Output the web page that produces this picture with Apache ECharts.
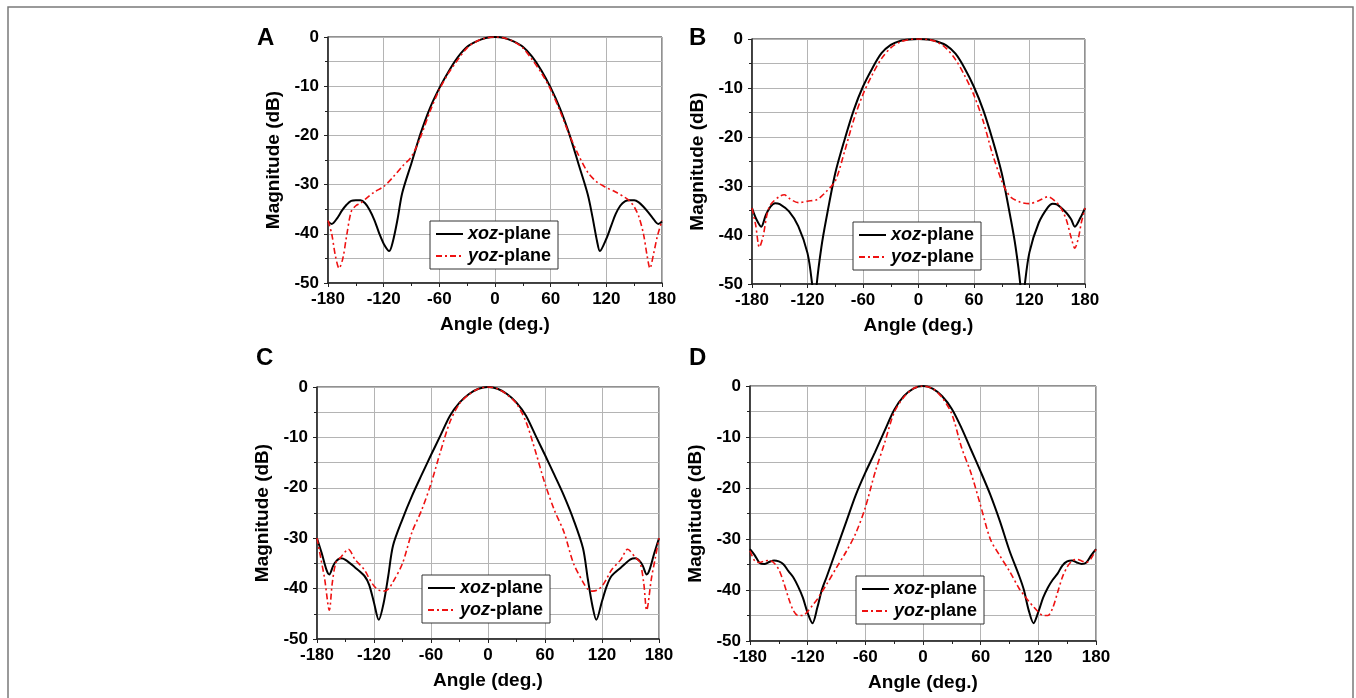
<!DOCTYPE html>
<html lang="en" style="height: 100%;width: 100%">
<head>
    <meta charset="UTF-8">
    <title>Radiation patterns</title>
</head>
<body style="height: 100%; margin: 0; background: #fff">
<div id="charts" style="width: 1356px; height: 698px"></div>
<script type="text/javascript" src="https://cdn.jsdelivr.net/npm/echarts/dist/echarts.min.js"></script>
<script>
    // ---- data (angle in deg, magnitude in dB) ----
    var xTicks = [-180, -120, -60, 0, 60, 120, 180];

    // A
    var aAngX = [-180,-176,-170,-165,-160,-155,-150,-145,-140,-135,-130,-125,-120,-114,-110,-105,-100,-90,-80,-70,-60,-50,-40,-30,-20,-10,0,10,20,30,40,50,60,70,80,90,100,105,110,113,120,125,130,135,140,145,150,155,160,165,170,176,180];
    var aXoz = [-37.5,-38,-36.8,-35.3,-34.1,-33.3,-33.2,-33.2,-33.8,-35.2,-37.2,-39.8,-42,-43.5,-41.5,-37,-31.7,-25.6,-19.5,-14.4,-10.4,-7,-4.1,-2,-0.9,-0.2,0,-0.2,-0.9,-2,-4,-6.8,-10.3,-14.5,-19.7,-25.8,-32,-36.5,-41.5,-43.5,-41,-38.5,-36,-34.3,-33.4,-33.2,-33.2,-33.6,-34.5,-35.6,-36.8,-38,-37.5];
    var aAngY = [-180,-176,-172,-168,-164,-160,-155,-150,-145,-140,-130,-120,-110,-100,-90,-80,-70,-60,-50,-40,-30,-20,-10,0,10,20,30,40,50,60,70,80,90,100,110,120,130,140,145,150,155,160,164,167,171,175,180];
    var aYoz = [-37.3,-40,-44.5,-47,-45,-40.5,-35.5,-34.3,-33.8,-33,-31.5,-30.4,-28.5,-26.3,-24.3,-20.2,-15.1,-10.7,-7.3,-4.6,-2.2,-0.9,-0.2,0,-0.2,-0.9,-2.2,-4.6,-7.3,-10.7,-15,-19.8,-24,-27.5,-29.5,-30.6,-31.5,-32.6,-33.3,-34.5,-36.5,-40,-44.5,-47,-44,-40.5,-37.3];

    // B
    var bAngX = [-180,-175,-170,-165,-160,-155,-150,-140,-130,-120,-115,-112,-110,-105,-100,-90,-80,-70,-60,-50,-40,-30,-20,-10,0,10,20,30,40,50,60,70,80,90,100,105,110,112,115,120,130,140,145,150,160,165,169,175,180];
    var bXoz = [-34.5,-36.9,-38.3,-35.9,-34.2,-33.5,-33.7,-35.2,-38.2,-43.7,-50,-56,-50,-42.5,-37,-27.4,-20.6,-14.5,-9.7,-6,-2.9,-1.2,-0.4,-0.1,0,-0.1,-0.5,-1.3,-3,-6,-9.8,-14.5,-20.5,-27.4,-37,-42.5,-50,-56,-50,-43.5,-37.5,-34.3,-33.6,-33.8,-35.5,-36.8,-38.3,-36.5,-34.5];
    var bAngY = [-180,-176,-172,-168,-164,-160,-150,-145,-140,-130,-120,-110,-105,-100,-90,-80,-70,-60,-50,-40,-30,-20,-10,0,10,20,30,40,50,60,70,80,90,95,100,110,120,130,140,150,155,160,165,169,173,176,180];
    var bYoz = [-34.5,-38,-42.5,-40.3,-36,-33.8,-32.1,-31.8,-32.5,-33.4,-33.1,-32.8,-32.1,-31.2,-29,-23,-16.5,-11.3,-7.3,-4,-1.8,-0.6,-0.1,0,-0.1,-0.6,-1.9,-4.2,-7.5,-11.5,-16.8,-23.5,-29,-31,-32.3,-33.3,-33.6,-33,-32.2,-33.5,-34.8,-37,-40.5,-42.7,-40.5,-37.5,-34.5];

    // C
    var cAngX = [-180,-175,-170,-167,-163,-160,-155,-150,-140,-130,-125,-120,-115,-110,-105,-100,-90,-80,-70,-60,-50,-40,-30,-20,-10,0,10,20,30,40,50,60,70,80,90,100,105,110,114,120,125,130,140,150,155,160,163,167,170,175,180];
    var cXoz = [-30,-33,-36.3,-37.2,-35.5,-34.6,-34,-34.3,-35.8,-37.5,-39.3,-42.8,-46.2,-43,-37.5,-31.5,-26.2,-21.6,-17.5,-13.5,-9.6,-5.7,-3.1,-1.4,-0.35,0,-0.35,-1.4,-3.1,-5.7,-9.6,-13.5,-17.5,-21.6,-26.3,-32,-38,-43.5,-46.2,-42.5,-39.5,-37.5,-35.8,-34.2,-34,-34.6,-35.5,-37.2,-36.3,-33,-30];
    var cAngY = [-180,-176,-172,-167,-164,-160,-155,-147,-140,-130,-125,-120,-115,-110,-105,-100,-90,-80,-70,-60,-50,-40,-30,-20,-10,0,10,20,30,40,50,60,70,80,90,100,105,110,115,120,125,130,140,147,155,160,164,167,172,176,180];
    var cYoz = [-30,-34,-38,-44.3,-39,-34.8,-33.8,-32.2,-34.2,-36.3,-38,-39.5,-40.3,-40.5,-40.1,-38.7,-35,-28.8,-24.5,-19.2,-12.8,-6.9,-3.3,-1.5,-0.35,0,-0.35,-1.5,-3.3,-6.9,-12.8,-19.2,-24.5,-28.8,-35,-38.7,-40.1,-40.5,-40.3,-39.5,-38,-36.3,-34.2,-32.2,-33.8,-34.8,-39,-44.3,-38,-34,-30];

    // D (both curves on the same angles)
    var dAng = [-180,-175,-170,-165,-160,-155,-150,-145,-140,-135,-130,-125,-120,-115,-110,-105,-100,-90,-80,-70,-60,-50,-40,-30,-20,-10,0,10,20,30,40,50,60,70,80,90,100,105,110,115,120,125,130,135,140,145,150,155,160,165,170,175,180];
    var dXoz = [-32,-33.2,-34.7,-34.9,-34.5,-34.2,-34.4,-35,-36.3,-37.5,-39.3,-41.5,-44.5,-46.5,-43.5,-39.8,-37.3,-32,-26.7,-21.4,-17,-13,-8.8,-4.7,-2,-0.5,0,-0.5,-2,-4.5,-8.2,-12.5,-16.8,-21.3,-26.5,-32.3,-37.2,-40,-44,-46.5,-44.3,-41.5,-39.5,-38,-36.8,-35.2,-34.4,-34.2,-34.6,-34.9,-34.6,-33.2,-32];
    var dYoz = [-32.3,-34.3,-34.6,-34.3,-34.2,-34.7,-36,-38.5,-41.5,-44,-45,-45,-44.2,-43,-41.8,-40.3,-38.8,-35.6,-32.5,-28.9,-23.8,-17,-11.2,-5.2,-2.2,-0.5,0,-0.5,-2.3,-5.5,-12,-17.1,-23.5,-30,-33.3,-36.3,-39.7,-41,-42.2,-43.3,-44.3,-45,-45,-43.5,-40.5,-37.5,-35.5,-34.3,-34,-34.3,-34.6,-33.8,-32];

    var panelNames = ['A', 'B', 'C', 'D'];
    var seriesNames = ['xoz-plane', 'yoz-plane'];

    function pairs(xs, ys) {
        return xs.map(function (x, i) { return [x, ys[i]]; });
    }

    var curves = [
        [pairs(aAngX, aXoz), pairs(aAngY, aYoz)],
        [pairs(bAngX, bXoz), pairs(bAngY, bYoz)],
        [pairs(cAngX, cXoz), pairs(cAngY, cYoz)],
        [pairs(dAng, dXoz), pairs(dAng, dYoz)]
    ];

    // layout of the four plots (px)
    var grids = [
        {left: 328, top: 37, width: 334, height: 246},
        {left: 752, top: 39, width: 333, height: 245},
        {left: 317, top: 387, width: 342, height: 252},
        {left: 750, top: 386, width: 346, height: 255}
    ];
    var legendPos = [[430, 221], [853, 222], [422, 575], [856, 576]];
    var letterPos = [[257, 26], [689, 26], [256, 346], [689, 346]];

    var font = '"Liberation Sans", Arial, sans-serif';
    var gridColor = '#b4b4b4';

    var dom = document.getElementById("charts");
    var myChart = echarts.init(dom);
    var option = {
        backgroundColor: '#fff',
        animation: false,
        title: [],
        legend: [],
        grid: [],
        xAxis: [],
        yAxis: [],
        series: [],
        graphic: [{
            type: 'rect',
            shape: {x: 8, y: 7, width: 1345, height: 730},
            style: {fill: 'none', stroke: '#7a7a7a', lineWidth: 1.5}
        }]
    };

    for (var i = 0; i < 4; i++) {
        var g = grids[i];
        option.grid.push({
            left: g.left, top: g.top, width: g.width, height: g.height,
            show: true, borderColor: '#222', borderWidth: 1, backgroundColor: 'transparent'
        });
        option.title.push({
            text: panelNames[i], left: letterPos[i][0], top: letterPos[i][1], padding: 0,
            textStyle: {fontFamily: font, fontSize: 24, fontWeight: 'bold', color: '#000'}
        });
        option.xAxis.push({
            type: 'value', gridIndex: i, min: -180, max: 180, interval: 60,
            name: 'Angle (deg.)', nameLocation: 'middle', nameGap: 32,
            nameTextStyle: {fontFamily: font, fontSize: 19, fontWeight: 'bold', color: '#000'},
            axisLine: {onZero: false, lineStyle: {color: '#222', width: 1.5}},
            axisTick: {show: true, inside: false, length: 4, lineStyle: {color: '#222'}},
            minorTick: {show: true, splitNumber: 2, length: 3, lineStyle: {color: '#222'}},
            axisLabel: {
                margin: 8, fontFamily: font, fontSize: 17, fontWeight: 'bold', color: '#000',
                customValues: xTicks
            },
            splitLine: {show: true, lineStyle: {color: gridColor, width: 1}}
        });
        option.yAxis.push({
            type: 'value', gridIndex: i, min: -50, max: 0, interval: 10,
            name: 'Magnitude (dB)', nameLocation: 'middle', nameGap: 45,
            nameTextStyle: {fontFamily: font, fontSize: 19, fontWeight: 'bold', color: '#000'},
            axisLine: {show: true, onZero: false, lineStyle: {color: '#222', width: 1.5}},
            axisTick: {show: true, inside: false, length: 4, lineStyle: {color: '#222'}},
            minorTick: {show: true, splitNumber: 2, length: 3, lineStyle: {color: '#222'}},
            axisLabel: {margin: 9, fontFamily: font, fontSize: 17, fontWeight: 'bold', color: '#000'},
            splitLine: {show: true, lineStyle: {color: gridColor, width: 1}},
            minorSplitLine: {show: true, lineStyle: {color: gridColor, width: 1}}
        });
        option.series.push({
            name: seriesNames[0], type: 'line', xAxisIndex: i, yAxisIndex: i,
            data: curves[i][0], symbol: 'none', smooth: 0.3, z: 3,
            lineStyle: {color: '#000', width: 2, type: 'solid'},
            itemStyle: {color: '#000'}
        });
        option.series.push({
            name: seriesNames[1], type: 'line', xAxisIndex: i, yAxisIndex: i,
            data: curves[i][1], symbol: 'none', smooth: 0.3, z: 4,
            lineStyle: {color: '#ee1111', width: 1.6, type: [6, 3, 2, 3]},
            itemStyle: {color: '#ee1111'}
        });
        option.legend.push({
            data: seriesNames, orient: 'vertical',
            left: legendPos[i][0], top: legendPos[i][1],
            backgroundColor: '#fff', borderColor: '#333', borderWidth: 1,
            padding: [4, 7, 4, 5], itemGap: 4, itemWidth: 27, itemHeight: 14,
            selectedMode: false,
            itemStyle: {opacity: 0},
            formatter: function (name) {
                var k = name.indexOf('-');
                return '{i|' + name.slice(0, k) + '}{n|' + name.slice(k) + '}';
            },
            textStyle: {
                fontFamily: font, fontSize: 18, color: '#000',
                rich: {
                    i: {fontFamily: font, fontSize: 18, fontWeight: 'bold', fontStyle: 'italic', color: '#000', lineHeight: 21},
                    n: {fontFamily: font, fontSize: 18, fontWeight: 'bold', color: '#000', lineHeight: 21}
                }
            }
        });
    }

    if (option && typeof option === "object") {
        myChart.setOption(option, true);
    }
</script>
</body>
</html>
